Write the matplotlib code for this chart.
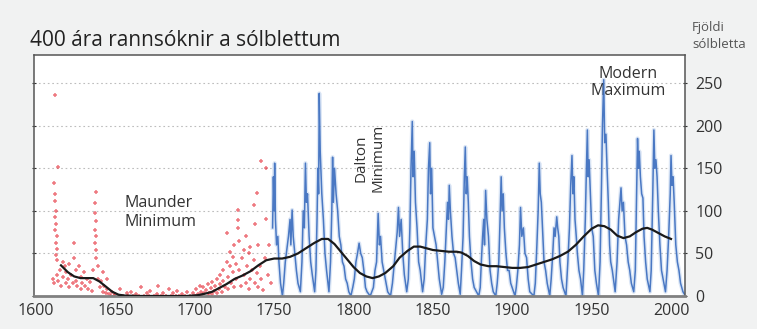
import numpy as np
import matplotlib
matplotlib.use("Agg")
import matplotlib.pyplot as plt

plt.rcParams['font.family'] = ['Open Sans', 'DejaVu Sans']

# monthly-ish sunspot counts (blue trace)
blue_years = [1749.0, 1749.5, 1750.0, 1750.3, 1750.8, 1751.5, 1752.3, 1753.0, 1754.0, 1755.2,
              1756.0, 1757.0, 1758.0, 1759.0, 1760.0, 1760.5, 1761.3, 1762.0, 1763.0, 1764.0,
              1765.0, 1766.5, 1767.5, 1768.3, 1769.0, 1769.7, 1770.3, 1771.0, 1772.0, 1773.0,
              1774.0, 1775.5, 1776.3, 1777.0, 1777.5, 1778.0, 1778.4, 1779.0, 1780.0, 1781.0,
              1782.0, 1783.0, 1784.5, 1785.5, 1786.3, 1786.8, 1787.3, 1788.0, 1789.0, 1790.0,
              1791.0, 1792.0, 1793.0, 1794.0, 1795.0, 1796.0, 1797.0, 1798.3, 1799.5, 1800.5,
              1801.5, 1802.5, 1803.5, 1804.5, 1805.5, 1806.5, 1807.5, 1808.5, 1810.5, 1811.5,
              1812.5, 1813.5, 1814.5, 1815.5, 1816.3, 1817.0, 1818.0, 1819.0, 1820.0, 1821.5,
              1823.3, 1824.5, 1825.5, 1826.5, 1827.5, 1828.3, 1829.0, 1830.0, 1831.0, 1832.0,
              1833.5, 1834.5, 1835.5, 1836.2, 1837.0, 1837.5, 1838.2, 1839.0, 1840.0, 1841.0,
              1842.0, 1843.5, 1844.5, 1845.5, 1846.5, 1847.2, 1848.0, 1848.5, 1849.2, 1850.0,
              1851.0, 1852.0, 1853.0, 1854.0, 1855.5, 1856.5, 1857.5, 1858.5, 1859.2, 1859.8,
              1860.3, 1861.0, 1862.0, 1863.0, 1864.0, 1865.0, 1866.0, 1867.2, 1868.0, 1869.0,
              1869.8, 1870.4, 1871.0, 1871.6, 1872.3, 1873.0, 1874.0, 1875.0, 1876.0, 1878.9,
              1879.8, 1880.5, 1881.3, 1882.0, 1882.5, 1883.2, 1884.0, 1885.0, 1886.0, 1887.0,
              1888.0, 1889.6, 1890.5, 1891.5, 1892.3, 1893.0, 1893.6, 1894.3, 1895.0, 1896.0,
              1897.0, 1898.0, 1899.0, 1901.7, 1902.5, 1903.5, 1904.5, 1905.2, 1906.0, 1907.0,
              1908.0, 1909.0, 1910.0, 1911.0, 1913.6, 1914.5, 1915.5, 1916.3, 1917.0, 1917.6,
              1918.3, 1919.0, 1920.0, 1921.0, 1922.0, 1923.6, 1924.5, 1925.5, 1926.3, 1927.0,
              1928.0, 1928.6, 1929.3, 1930.0, 1931.0, 1932.0, 1933.8, 1935.0, 1936.0, 1936.8,
              1937.6, 1938.2, 1938.8, 1939.5, 1940.3, 1941.0, 1942.0, 1943.0, 1944.2, 1945.0,
              1946.0, 1946.7, 1947.3, 1947.8, 1948.4, 1949.0, 1950.0, 1951.0, 1952.0, 1953.0,
              1954.3, 1955.3, 1956.2, 1956.8, 1957.6, 1958.2, 1959.0, 1959.7, 1960.5, 1961.3,
              1962.0, 1963.0, 1964.8, 1966.0, 1967.0, 1967.8, 1968.5, 1969.2, 1970.0, 1971.0,
              1972.0, 1973.0, 1974.0, 1975.0, 1976.5, 1977.5, 1978.3, 1978.9, 1979.5, 1980.0,
              1980.7, 1981.5, 1982.3, 1983.0, 1984.0, 1985.0, 1986.7, 1987.5, 1988.5, 1989.2,
              1989.8, 1990.5, 1991.2, 1992.0, 1993.0, 1994.0, 1995.0, 1996.5, 1997.5, 1998.5,
              1999.5, 2000.0, 2000.6, 2001.3, 2002.0, 2003.0, 2004.0, 2005.0, 2006.0, 2007.5,
              2008.5]
blue_vals = [80, 140, 100, 156, 90, 60, 70, 40, 15, 0,
             15, 40, 55, 70, 90, 60, 101, 70, 50, 30,
             15, 5, 40, 100, 80, 156, 110, 120, 70, 40,
             25, 5, 30, 90, 150, 120, 238, 170, 120, 90,
             50, 30, 5, 40, 100, 163, 110, 150, 120, 100,
             70, 60, 40, 35, 20, 15, 5, 0, 10, 20,
             40, 50, 62, 50, 45, 30, 10, 5, 0, 5,
             10, 30, 40, 97, 60, 70, 40, 30, 20, 5,
             0, 15, 35, 55, 75, 104, 70, 90, 50, 25,
             5, 20, 80, 150, 205, 140, 170, 110, 80, 40,
             30, 5, 20, 60, 90, 150, 180, 120, 150, 80,
             70, 60, 40, 20, 2, 10, 40, 80, 110, 90,
             130, 100, 70, 50, 45, 30, 15, 2, 30, 70,
             140, 175, 120, 140, 110, 70, 40, 20, 10, 0,
             10, 40, 70, 90, 60, 124, 90, 70, 30, 15,
             5, 0, 15, 40, 90, 140, 100, 120, 80, 50,
             30, 30, 15, 0, 10, 30, 60, 104, 70, 80,
             50, 45, 20, 5, 0, 15, 60, 100, 156, 120,
             110, 80, 40, 30, 15, 0, 20, 50, 80, 70,
             93, 80, 70, 40, 20, 10, 0, 40, 80, 130,
             165, 120, 140, 90, 70, 50, 30, 20, 0, 30,
             90, 150, 195, 140, 160, 130, 80, 70, 30, 15,
             0, 40, 130, 200, 254, 180, 190, 150, 110, 60,
             40, 30, 5, 40, 90, 110, 127, 100, 110, 70,
             60, 40, 30, 15, 5, 30, 120, 185, 150, 170,
             140, 120, 115, 70, 40, 20, 5, 30, 120, 195,
             150, 160, 140, 100, 60, 30, 20, 5, 30, 70,
             120, 165, 130, 140, 110, 60, 40, 30, 15, 5,
             2]

# early telescopic observations (red points)
red_years = [1611.5, 1612, 1612, 1612.5, 1612, 1612.5, 1612, 1613, 1612.5, 1613, 1612.5, 1613,
             1612, 1614, 1610.5, 1611, 1613, 1614, 1615, 1616, 1617, 1617, 1618, 1619, 1619,
             1620, 1621, 1621, 1622, 1623, 1624, 1624, 1625, 1625, 1626, 1627, 1628, 1628,
             1629, 1630, 1631, 1632, 1633, 1634, 1635, 1636, 1637, 1637, 1637.5, 1637, 1637.5,
             1637, 1637.5, 1638, 1638, 1639, 1639, 1640, 1641, 1642, 1642, 1643, 1644, 1645,
             1645, 1646, 1647, 1648, 1649, 1650, 1652, 1653, 1655, 1657, 1658, 1660, 1661,
             1663, 1665, 1666, 1668, 1670, 1671, 1672, 1674, 1676, 1677, 1679, 1680, 1682,
             1684, 1685, 1686, 1688, 1689, 1690, 1692, 1694, 1695, 1697, 1699, 1700, 1701,
             1702, 1703, 1704, 1704, 1705, 1706, 1707, 1708, 1708, 1709, 1710, 1711, 1711,
             1712, 1713, 1714, 1714, 1715, 1716, 1716, 1717, 1718, 1718, 1719, 1720, 1720,
             1721, 1721, 1722, 1722, 1723, 1724, 1724, 1725, 1725, 1726, 1726, 1727, 1727,
             1727, 1728, 1728, 1729, 1730, 1731, 1731, 1732, 1732, 1733, 1734, 1734, 1735,
             1735, 1736, 1737, 1737, 1738, 1738, 1739, 1739, 1740, 1740, 1741, 1742, 1742,
             1743, 1744, 1745, 1745, 1746, 1747, 1748]
red_vals = [133, 120, 112, 100, 93, 85, 78, 70, 62, 55, 48, 42,
            236, 151, 20, 15, 25, 18, 30, 12, 22, 40, 35, 15, 28,
            20, 10, 38, 25, 15, 62, 45, 30, 18, 12, 35, 22, 8,
            15, 28, 12, 20, 8, 16, 6, 30, 109, 98, 88, 78, 70,
            62, 54, 122, 45, 20, 35, 10, 18, 28, 5, 12, 3, 8,
            20, 2, 0, 5, 0, 2, 0, 8, 0, 3, 0, 5, 0,
            2, 0, 10, 0, 3, 0, 6, 0, 2, 12, 0, 4, 0,
            8, 0, 3, 0, 6, 0, 2, 0, 5, 0, 3, 0, 8,
            2, 12, 0, 5, 10, 3, 7, 0, 14, 4, 9, 2, 16,
            6, 12, 3, 20, 8, 25, 14, 5, 30, 18, 10, 74, 40,
            22, 8, 35, 52, 15, 46, 28, 10, 60, 20, 38, 101, 89,
            80, 65, 30, 12, 45, 54, 25, 70, 15, 35, 50, 8, 58,
            20, 30, 107, 42, 85, 15, 121, 27, 60, 10, 35, 20, 158,
            7, 45, 150, 90, 25, 60, 15]

# smoothed long-term average (black)
avg_years = [1615.7, 1620, 1624, 1628, 1632, 1636, 1640, 1644, 1648, 1652, 1656, 1665, 1680,
             1695, 1702, 1707, 1711, 1715, 1720, 1725, 1730, 1735, 1740, 1745, 1750, 1755,
             1760, 1765, 1770, 1775, 1780, 1784, 1788, 1792, 1796, 1800, 1804, 1808, 1812,
             1816, 1820, 1825, 1829, 1834, 1838, 1842, 1846, 1850, 1855, 1860, 1865, 1868,
             1872, 1876, 1880, 1885, 1890, 1895, 1900, 1905, 1910, 1915, 1920, 1925, 1930,
             1935, 1940, 1945, 1950, 1954, 1958, 1962, 1966, 1970, 1974, 1978, 1982, 1985,
             1988, 1992, 1996, 2000]
avg_vals = [36, 28, 23, 21, 21, 21, 17, 11, 5, 1.5, 0.5, 0, 0,
            0, 1, 3, 5, 9, 14, 20, 24, 29, 36, 42, 44, 44,
            46, 50, 56, 62, 67, 67, 61, 52, 43, 34, 27, 23, 21,
            23, 27, 35, 45, 53, 58, 58, 56, 54, 53, 52, 52, 51,
            47, 41, 37, 35, 35, 34, 33, 33, 34, 37, 40, 43, 47,
            52, 60, 70, 79, 83, 82, 78, 71, 68, 70, 75, 79, 80,
            78, 74, 70, 67]

x_ticks = [1600, 1650, 1700, 1750, 1800, 1850, 1900, 1950, 2000]
y_ticks = [0, 50, 100, 150, 200, 250]

W, H = 757, 329
fig = plt.figure(figsize=(W / 100, H / 100), dpi=100, facecolor='#f1f2f2')
ax = fig.add_axes([34 / W, 1 - 296 / H, (685 - 34) / W, (296 - 55) / H])
ax.set_facecolor('white')

ax.scatter(red_years, red_vals, s=12, marker='+', color='#e3202c', alpha=0.6, linewidths=1.1, zorder=2)
ax.plot(blue_years, blue_vals, color='#3a6cbe', lw=1.1, alpha=0.9, zorder=2)
ax.plot(blue_years, blue_vals, color='#9ab8e4', lw=3.0, alpha=0.35, zorder=1)
ax.plot(avg_years, avg_vals, color='#1a1a1a', lw=1.6, zorder=3)

ax.set_xlim(1598.7, 2008.8)
ax.set_ylim(0, 283)
ax.set_xticks(x_ticks)
ax.set_yticks(y_ticks)
for v in y_ticks[1:]:
    ax.axhline(v, color='#bdbdbd', lw=0.8, ls=(0, (1.5, 2.5)), zorder=0)

ax.yaxis.tick_right()
ax.tick_params(axis='y', which='both', labelsize=11.5, colors='#333333', length=3, pad=6)
ax.tick_params(axis='x', labelsize=11.5, colors='#333333', length=0, pad=5)
ax.tick_params(axis='y', left=True, length=3, direction='inout')
for s in ['left', 'right', 'top']:
    ax.spines[s].set_color('#555555')
    ax.spines[s].set_linewidth(1.1)
ax.spines['bottom'].set_color('#808080')
ax.spines['bottom'].set_linewidth(2)

ax.text(1656, 98, 'Maunder\nMinimum', fontsize=11.5, color='#333333', ha='left', va='center',
        linespacing=1.3)
ax.text(1810, 162, 'Dalton\nMinimum', fontsize=11, color='#333333', rotation=90, ha='center',
        va='center', linespacing=1.2)
ax.text(1973, 251, 'Modern\nMaximum', fontsize=11.5, color='#333333', ha='center', va='center',
        linespacing=1.1, zorder=1)

fig.text(30 / W, 1 - 40 / H, '400 ára rannsóknir a sólblettum', fontsize=15, color='#222222',
         ha='left', va='center')
fig.text(692 / W, 1 - 21 / H, 'Fjöldi\nsólbletta', fontsize=9.5, color='#555555', ha='left',
         va='top', linespacing=1.4)

fig.savefig('out.png', dpi=100, facecolor=fig.get_facecolor())
